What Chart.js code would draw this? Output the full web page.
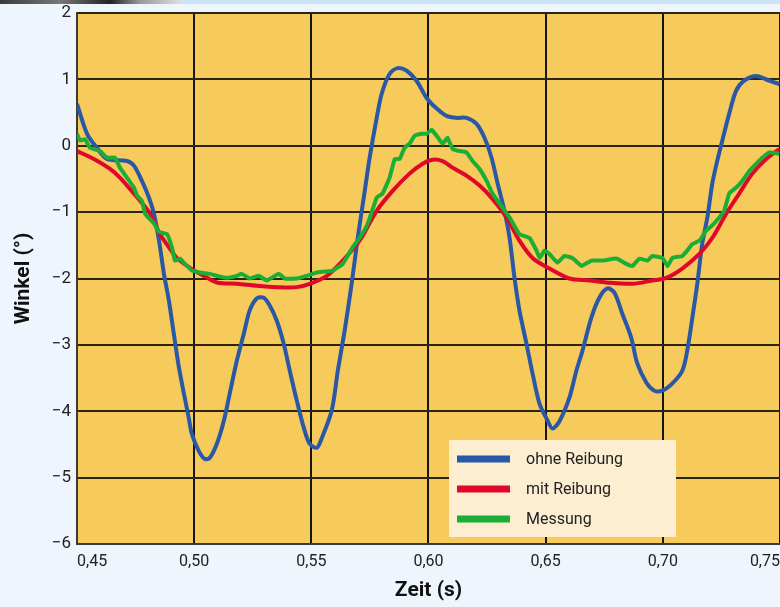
<!DOCTYPE html>
<html>
<head>
<meta charset="utf-8">
<title>Winkel</title>
<script src="https://cdn.jsdelivr.net/npm/chart.js@4.4.1/dist/chart.umd.min.js"></script>
<style>
    html, body { margin: 0; padding: 0; background: #eef5fc; overflow: hidden; }
    #strip { position: absolute; left: 0; top: 0; width: 780px; height: 4px;
        background: linear-gradient(to right, #3a3a3a 0px, #777 60px, #222 110px, #999 140px, #ddd 180px, #cbe5f7 181px, #cbe5f7 780px); }
    #wrap { position: absolute; left: 0; top: 0; width: 780px; height: 607px; overflow: hidden; }
</style>
</head>
<body>
<div id="wrap"><canvas id="chart" width="780" height="607"></canvas></div>
<div id="strip"></div>
<script>
// Ticks
const xTicks = [0.45, 0.50, 0.55, 0.60, 0.65, 0.70, 0.75];
const yTicks = [2, 1, 0, -1, -2, -3, -4, -5, -6];

// ohne Reibung
const blueT = [0.450, 0.4543, 0.4585, 0.4628, 0.4713, 0.4743, 0.4777, 0.4807, 0.4828, 0.4850,
    0.4871, 0.4892, 0.4913, 0.4935, 0.4956, 0.4977, 0.4990, 0.5020, 0.5046, 0.5067,
    0.5097, 0.5127, 0.5152, 0.5182, 0.5212, 0.5237, 0.5267, 0.5297, 0.5323, 0.5353,
    0.5382, 0.5408, 0.5438, 0.5468, 0.5493, 0.5523, 0.5544, 0.5587, 0.5613, 0.5642,
    0.5672, 0.5698, 0.5728, 0.5749, 0.5779, 0.5800, 0.5834, 0.5868, 0.5907, 0.5949,
    0.5992, 0.6035, 0.6077, 0.6120, 0.6162, 0.6205, 0.6239, 0.6269, 0.6295, 0.6324,
    0.6346, 0.6367, 0.6388, 0.6418, 0.6444, 0.6474, 0.6508, 0.6529, 0.6559, 0.6601,
    0.6631, 0.6657, 0.6695, 0.6729, 0.6763, 0.6793, 0.6827, 0.6865, 0.6891, 0.6930,
    0.6964, 0.6998, 0.7041, 0.7083, 0.7104, 0.7126, 0.7147, 0.7168, 0.7190, 0.7211,
    0.7232, 0.7254, 0.7283, 0.7313, 0.7347, 0.7399, 0.7454, 0.7497];
const blueV = [0.63, 0.18, -0.03, -0.20, -0.23, -0.30, -0.53, -0.78, -1.02, -1.43,
    -1.93, -2.33, -2.83, -3.34, -3.73, -4.10, -4.34, -4.60, -4.72, -4.70,
    -4.49, -4.14, -3.73, -3.24, -2.83, -2.48, -2.30, -2.29, -2.41, -2.64,
    -2.98, -3.39, -3.84, -4.25, -4.49, -4.55, -4.41, -3.99, -3.39, -2.79,
    -2.08, -1.39, -0.68, -0.18, 0.42, 0.78, 1.08, 1.17, 1.13, 0.98,
    0.72, 0.56, 0.45, 0.42, 0.42, 0.33, 0.12, -0.18, -0.57, -0.98,
    -1.39, -1.99, -2.48, -2.98, -3.43, -3.89, -4.14, -4.26, -4.15, -3.80,
    -3.39, -3.09, -2.59, -2.29, -2.15, -2.21, -2.53, -2.89, -3.28, -3.57,
    -3.69, -3.69, -3.58, -3.39, -3.09, -2.59, -2.08, -1.48, -1.08, -0.57,
    -0.23, 0.08, 0.48, 0.83, 0.98, 1.05, 0.98, 0.93];

// mit Reibung
const redT = [0.450, 0.4572, 0.4641, 0.4683, 0.4726, 0.4769, 0.4811, 0.4854, 0.4892, 0.4926,
    0.4982, 0.5041, 0.5097, 0.5182, 0.5267, 0.5353, 0.5438, 0.5493, 0.5566, 0.5634,
    0.5706, 0.5779, 0.5847, 0.5919, 0.5975, 0.6017, 0.6060, 0.6103, 0.6162, 0.6218,
    0.6273, 0.6333, 0.6388, 0.6444, 0.6516, 0.6601, 0.6687, 0.6759, 0.6870, 0.6955,
    0.7015, 0.7083, 0.7156, 0.7211, 0.7271, 0.7326, 0.7382, 0.7441, 0.7497];
const redV = [-0.08, -0.20, -0.35, -0.48, -0.65, -0.83, -1.02, -1.33, -1.53, -1.69,
    -1.84, -1.96, -2.06, -2.08, -2.11, -2.13, -2.13, -2.08, -1.96, -1.73,
    -1.43, -0.98, -0.68, -0.42, -0.27, -0.21, -0.23, -0.33, -0.45, -0.60,
    -0.80, -1.08, -1.43, -1.69, -1.85, -2.00, -2.03, -2.06, -2.08, -2.03,
    -1.99, -1.85, -1.63, -1.39, -1.02, -0.72, -0.42, -0.20, -0.05];

// Messung
const greenT = [0.450, 0.4513, 0.4534, 0.4555, 0.4598, 0.4628, 0.4662, 0.4683, 0.4713, 0.4743,
    0.4756, 0.4777, 0.4790, 0.4828, 0.4850, 0.4884, 0.4905, 0.4918, 0.4939, 0.4969,
    0.4990, 0.5024, 0.5067, 0.5097, 0.5139, 0.5182, 0.5203, 0.5237, 0.5276, 0.5310,
    0.5361, 0.5387, 0.5438, 0.5480, 0.5523, 0.5591, 0.5634, 0.5676, 0.5706, 0.5740,
    0.5779, 0.5804, 0.5834, 0.5856, 0.5877, 0.5898, 0.5919, 0.5941, 0.5971, 0.5992,
    0.6013, 0.6035, 0.6060, 0.6081, 0.6103, 0.6133, 0.6162, 0.6188, 0.6218, 0.6248,
    0.6273, 0.6303, 0.6346, 0.6388, 0.6431, 0.6461, 0.6474, 0.6495, 0.6516, 0.6550,
    0.6580, 0.6614, 0.6653, 0.6695, 0.6742, 0.6802, 0.6844, 0.6870, 0.6900, 0.6934,
    0.6955, 0.6998, 0.7020, 0.7041, 0.7083, 0.7104, 0.7126, 0.7156, 0.7185, 0.7211,
    0.7241, 0.7262, 0.7283, 0.7313, 0.7339, 0.7369, 0.7399, 0.7424, 0.7454, 0.7497];
const greenV = [0.18, 0.08, 0.10, -0.03, -0.08, -0.18, -0.18, -0.33, -0.48, -0.63,
    -0.75, -0.83, -1.02, -1.17, -1.30, -1.33, -1.53, -1.73, -1.70, -1.81,
    -1.88, -1.91, -1.93, -1.96, -1.99, -1.96, -1.93, -2.00, -1.96, -2.03,
    -1.93, -2.00, -2.00, -1.96, -1.91, -1.88, -1.78, -1.53, -1.39, -1.18,
    -0.78, -0.72, -0.48, -0.20, -0.20, -0.03, 0.03, 0.15, 0.18, 0.18,
    0.24, 0.15, 0.03, 0.12, -0.05, -0.08, -0.10, -0.23, -0.35, -0.53,
    -0.72, -0.87, -1.08, -1.33, -1.39, -1.58, -1.69, -1.58, -1.63, -1.76,
    -1.66, -1.69, -1.81, -1.73, -1.73, -1.70, -1.78, -1.81, -1.70, -1.73,
    -1.66, -1.69, -1.81, -1.69, -1.66, -1.58, -1.48, -1.43, -1.28, -1.20,
    -1.08, -0.98, -0.72, -0.63, -0.53, -0.38, -0.27, -0.18, -0.10, -0.12];

const seriesNames = ['ohne Reibung', 'mit Reibung', 'Messung'];
const seriesColors = ['#2b58a6', '#e0082a', '#1aae36'];
const seriesTension = [0.3, 0.3, 0.1];

function toPoints(ts, vs) {
    return ts.map((t, i) => ({ x: t, y: vs[i] }));
}

// Orange plot background
const plotBackground = {
    id: 'plotBackground',
    beforeDraw(chart) {
        const { ctx, chartArea: a } = chart;
        ctx.save();
        ctx.fillStyle = '#f6ca5b';
        ctx.fillRect(a.left, a.top, a.right - a.left, a.bottom - a.top);
        ctx.restore();
    }
};

// Legend box inside the plot
const boxLegend = {
    id: 'boxLegend',
    afterDatasetsDraw(chart) {
        const { ctx, chartArea: a } = chart;
        const x = a.left + 372, y = a.bottom - 104;
        ctx.save();
        ctx.fillStyle = '#fdedd1';
        ctx.fillRect(x, y, 227, 97);
        ctx.font = '16px Roboto';
        ctx.textBaseline = 'middle';
        chart.data.datasets.forEach((ds, i) => {
            const ry = y + 19 + i * 30;
            ctx.fillStyle = ds.borderColor;
            ctx.fillRect(x + 8, ry - 3.5, 53, 7);
            ctx.fillStyle = '#222';
            ctx.fillText(ds.label, x + 77, ry + 1);
        });
        ctx.restore();
    }
};

const datasets = [
    toPoints(blueT, blueV),
    toPoints(redT, redV),
    toPoints(greenT, greenV)
].map((pts, i) => ({
    label: seriesNames[i],
    data: pts,
    borderColor: seriesColors[i],
    borderWidth: 4,
    pointRadius: 0,
    tension: seriesTension[i],
    fill: false
}));
// red and green drawn above blue
datasets[0].order = 3;
datasets[1].order = 2;
datasets[2].order = 1;

new Chart(document.getElementById('chart'), {
    type: 'line',
    data: { datasets },
    plugins: [plotBackground, boxLegend],
    options: {
        responsive: false,
        animation: false,
        layout: { padding: { top: 13, right: 0, left: 0, bottom: 0 } },
        plugins: {
            legend: { display: false },
            tooltip: { enabled: false }
        },
        scales: {
            x: {
                type: 'linear',
                min: 0.45,
                max: 0.75,
                afterBuildTicks: (scale) => { scale.ticks = xTicks.map(v => ({ value: v })); },
                afterFit: (scale) => {
                    scale.height = 63;
                    scale.paddingLeft = 0;
                    scale.paddingRight = 0;
                },
                grid: { color: '#161616', lineWidth: 2, drawTicks: false },
                border: { color: '#3a3a3a', width: 2 },
                ticks: {
                    align: 'inner',
                    padding: 8,
                    color: '#222',
                    font: { family: 'Roboto', size: 16 },
                    callback: (v) => v.toFixed(2).replace('.', ',')
                },
                title: {
                    display: true,
                    text: 'Zeit (s)',
                    color: '#111',
                    font: { family: 'Roboto', size: 21, weight: 'bold' },
                    padding: { top: 0, bottom: 4 }
                }
            },
            y: {
                min: -6,
                max: 2,
                afterBuildTicks: (scale) => { scale.ticks = yTicks.map(v => ({ value: v })); },
                afterFit: (scale) => {
                    scale.width = 77;
                    scale.paddingTop = 0;
                    scale.paddingBottom = 0;
                },
                grid: { color: '#2b2514', lineWidth: 2, drawTicks: false },
                border: { color: '#3a3a3a', width: 2 },
                ticks: {
                    padding: 6,
                    color: '#222',
                    font: { family: 'Roboto', size: 17 },
                    callback: (v) => (v < 0 ? '\u2212' + Math.abs(v) : String(v))
                },
                title: {
                    display: true,
                    text: 'Winkel (°)',
                    color: '#111',
                    font: { family: 'Roboto', size: 21, weight: 'bold' },
                    padding: { top: 11, bottom: 0 }
                }
            }
        }
    }
});
</script>
</body>
</html>
